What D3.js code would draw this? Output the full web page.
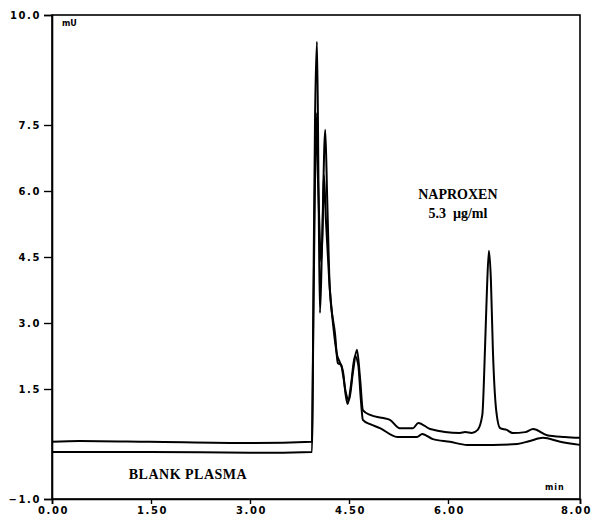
<!DOCTYPE html>
<html>
<head>
<meta charset="utf-8">
<script src="https://cdn.jsdelivr.net/npm/d3@7"></script>
<style>
  body { margin: 0; background: #fff; }
  .tick text { font-family: "DejaVu Sans", sans-serif; font-weight: bold; font-size: 10px; letter-spacing: 1.6px; fill: #000; }
  .lbl { font-family: "Liberation Serif", serif; font-weight: bold; fill: #000; }
</style>
</head>
<body>
<svg id="paper" width="595" height="518"></svg>
<script>
// chromatogram: blank plasma vs plasma spiked with naproxen
const yTicks = [-1.0, 1.5, 3.0, 4.5, 6.0, 7.5, 10.0];
const xTicks = [0, 1.5, 3.0, 4.5, 6.0, 8.0];

// sample trace (time in min, signal in mV)
const sampleT = [0, 0.42, 1.48, 3.0, 3.94, 3.96, 3.985, 4.015, 4.04, 4.06, 4.09, 4.14, 4.17, 4.21, 4.29, 4.33,
  4.38, 4.41, 4.45, 4.5, 4.56, 4.62, 4.67, 4.71, 4.82, 5.02, 5.12, 5.27, 5.47, 5.55, 5.73, 6.18, 6.26, 6.36,
  6.45, 6.52, 6.56, 6.59, 6.62, 6.65, 6.68, 6.73, 6.79, 6.89, 6.98, 7.17, 7.29, 7.5, 7.77, 8.0];
const sampleV = [0.30, 0.32, 0.30, 0.27, 0.30, 3.5, 7.6, 9.39, 5.8, 3.23, 4.66, 7.39, 5.8, 3.75, 2.73, 2.09,
  2.05, 1.82, 1.43, 1.25, 1.89, 2.39, 1.70, 1.02, 0.91, 0.84, 0.80, 0.61, 0.61, 0.73, 0.59, 0.50, 0.52, 0.50,
  0.57, 0.91, 2.39, 3.75, 4.64, 3.98, 2.39, 1.02, 0.61, 0.57, 0.50, 0.52, 0.59, 0.45, 0.41, 0.39];

// blank plasma trace
const blankT = [0, 1.48, 3.0, 3.94, 3.96, 3.985, 4.0, 4.03, 4.08, 4.11, 4.12, 4.15, 4.2, 4.26, 4.32, 4.36,
  4.41, 4.45, 4.48, 4.53, 4.59, 4.64, 4.68, 4.71, 4.82, 4.97, 5.23, 5.42, 5.53, 5.61, 5.77, 6.03, 6.29, 6.68,
  7.05, 7.24, 7.44, 7.7, 8.0];
const blankV = [0.07, 0.07, 0.05, 0.07, 3.07, 6.25, 7.77, 6.25, 4.39, 5.8, 6.36, 5.34, 3.98, 2.95, 2.27, 2.11,
  1.89, 1.36, 1.16, 1.59, 2.25, 2.05, 1.25, 0.80, 0.70, 0.61, 0.41, 0.41, 0.41, 0.48, 0.36, 0.30, 0.23, 0.23,
  0.25, 0.32, 0.39, 0.30, 0.23];

var margin = {top: 15, right: 15, bottom: 19, left: 52},
    width = 595 - margin.left - margin.right,
    height = 518 - margin.top - margin.bottom;

var svg = d3.select("#paper"),
    g = svg.append("g")
        .attr("transform", "translate(" + margin.left + "," + margin.top + ")");

var x = d3.scaleLinear().domain([0, 8]).range([0, width]);
var y = d3.scaleLinear().domain([-1, 10]).range([height, 0]);

// frame
g.append("rect")
    .attr("width", width)
    .attr("height", height)
    .attr("fill", "none")
    .attr("stroke", "#000")
    .attr("stroke-width", 1.6);

// axes
var yAxis = g.append("g")
    .call(d3.axisLeft(y).tickValues(yTicks).tickSize(8).tickPadding(4).tickFormat(d3.format(".1f")));
var xAxis = g.append("g")
    .attr("transform", "translate(0," + height + ")")
    .call(d3.axisBottom(x).tickValues(xTicks).tickSize(5).tickPadding(3).tickFormat(d3.format(".2f")));

[yAxis, xAxis].forEach(a => {
    a.select(".domain").attr("stroke-width", 1.6);
    a.selectAll(".tick line").attr("stroke-width", 1.4);
});
yAxis.selectAll(".tick text").attr("dx", "1px");
// keep the last label inside the page
xAxis.selectAll(".tick text").attr("dx", d => d === 8 ? "-4px" : "1px");

// traces
var line = d3.line()
    .curve(d3.curveMonotoneX)
    .x(d => x(d[0]))
    .y(d => y(d[1]));

g.append("path")
    .datum(d3.zip(blankT, blankV))
    .attr("d", line)
    .attr("fill", "none")
    .attr("stroke", "#000")
    .attr("stroke-width", 2)
    .attr("stroke-linejoin", "round");

g.append("path")
    .datum(d3.zip(sampleT, sampleV))
    .attr("d", line)
    .attr("fill", "none")
    .attr("stroke", "#000")
    .attr("stroke-width", 2)
    .attr("stroke-linejoin", "round");

// unit labels
g.append("text")
    .attr("x", 10).attr("y", 11)
    .style("font-family", "DejaVu Sans, sans-serif")
    .style("font-weight", "bold")
    .style("font-size", "8px")
    .text("mU");
g.append("text")
    .attr("x", 493).attr("y", height - 9)
    .style("font-family", "DejaVu Sans, sans-serif")
    .style("font-weight", "bold")
    .style("font-size", "8px")
    .style("letter-spacing", "1px")
    .text("min");

// annotations
g.append("text")
    .attr("class", "lbl")
    .attr("x", x(6.15)).attr("y", 184)
    .style("text-anchor", "middle")
    .style("font-size", "14px")
    .text("NAPROXEN");
g.append("text")
    .attr("class", "lbl")
    .attr("x", x(6.15)).attr("y", 203)
    .style("text-anchor", "middle")
    .style("font-size", "14px")
    .attr("xml:space", "preserve")
    .text("5.3  µg/ml");
g.append("text")
    .attr("class", "lbl")
    .attr("x", x(2.06)).attr("y", 464)
    .style("text-anchor", "middle")
    .style("font-size", "14px")
    .style("letter-spacing", "0.5px")
    .text("BLANK PLASMA");
</script>
</body>
</html>
